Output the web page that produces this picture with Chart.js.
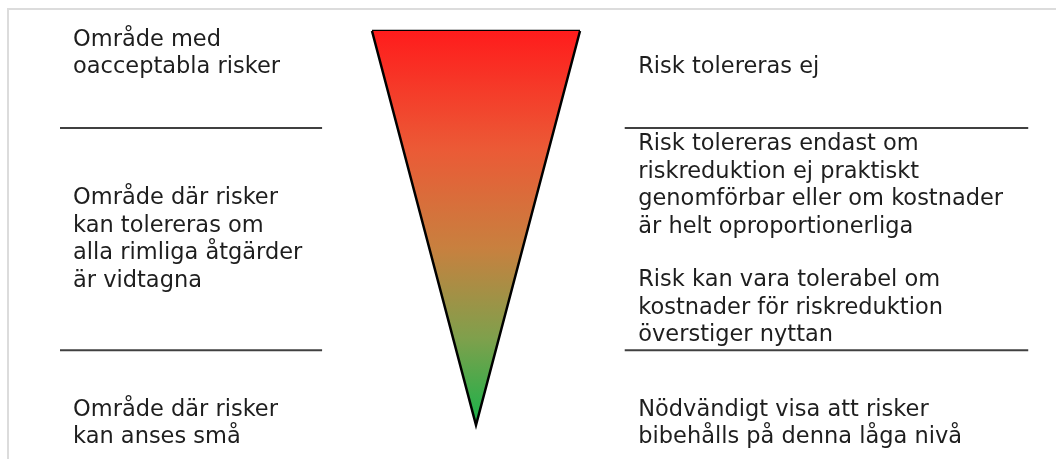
<!DOCTYPE html>
<html>
<head>
<meta charset="utf-8">
<script src="https://cdn.jsdelivr.net/npm/chart.js@4"></script>
<style>
  html, body { margin: 0; padding: 0; background: #fff; }
  #wrap { position: relative; width: 1056px; height: 459px; }
  #frame { position: absolute; left: 7px; top: 8px; right: 0; bottom: 0;
           border-left: 2px solid #dcdcdc; border-top: 2px solid #dcdcdc; }
  #riskchart { position: absolute; left: 0; top: 0; }
</style>
</head>
<body>
<div id="wrap">
  <div id="frame"></div>
  <canvas id="riskchart" width="1056" height="459"></canvas>
</div>
<script>
// risk level 0 = apex (small risk), 1 = top (unacceptable)
const triangleX = [-1, 0, 1];
const triangleY = [1, 0, 1];

// boundaries between the three zones
const zoneBounds = [0.754, 0.19];
const leftLineX = [-4.0, -1.48];
const rightLineX = [1.43, 5.31];

const leftLabels = [
    ["Område med", "oacceptabla risker"],
    ["Område där risker", "kan tolereras om", "alla rimliga åtgärder", "är vidtagna"],
    ["Område där risker", "kan anses små"]
];
const leftLevels = [0.942, 0.47, 0.003];

const rightLabels = [
    ["Risk tolereras ej"],
    ["Risk tolereras endast om", "riskreduktion ej praktiskt", "genomförbar eller om kostnader", "är helt oproportionerliga"],
    ["Risk kan vara tolerabel om", "kostnader för riskreduktion", "överstiger nyttan"],
    ["Nödvändigt visa att risker", "bibehålls på denna låga nivå"]
];
const rightLevels = [0.909, 0.608, 0.297, 0.004];

const leftTextX = -3.875;
const rightTextX = 1.56;

document.addEventListener("DOMContentLoaded", function () {
    const canvas = document.getElementById("riskchart");

    const triangle = triangleX.map((x, i) => ({ x: x, y: triangleY[i] }));
    const topEdge = [triangle[0], triangle[2]];

    const lineSets = [];
    zoneBounds.forEach(level => {
        [leftLineX, rightLineX].forEach(xs => {
            lineSets.push({
                data: xs.map(x => ({ x: x, y: level })),
                borderColor: "#404040",
                borderWidth: 2,
                pointRadius: 0,
                fill: false
            });
        });
    });

    const textPlugin = {
        id: "zoneText",
        afterDatasetsDraw(chart) {
            const c = chart.ctx;
            const xs = chart.scales.x, ys = chart.scales.y;
            const lineH = 27.5;
            c.save();
            c.font = "22.5px 'DejaVu Sans', Verdana, sans-serif";
            c.fillStyle = "#1e1e1e";
            c.textBaseline = "middle";
            c.textAlign = "left";
            const drawBlocks = (blocks, levels, tx) => {
                blocks.forEach((lines, i) => {
                    const cy = ys.getPixelForValue(levels[i]);
                    const y0 = cy - (lines.length - 1) * lineH / 2;
                    lines.forEach((t, j) => c.fillText(t, xs.getPixelForValue(tx), y0 + j * lineH));
                });
            };
            drawBlocks(leftLabels, leftLevels, leftTextX);
            drawBlocks(rightLabels, rightLevels, rightTextX);
            c.restore();
        }
    };

    new Chart(canvas.getContext("2d"), {
        type: "line",
        data: {
            datasets: [{
                data: triangle,
                borderColor: "#000",
                borderWidth: 2.5,
                borderJoinStyle: "miter",
                pointRadius: 0,
                tension: 0,
                fill: { value: 1 },
                backgroundColor: function (context) {
                    const chart = context.chart;
                    if (!chart.chartArea) return "#c0703a";
                    const top = chart.scales.y.getPixelForValue(1);
                    const bottom = chart.scales.y.getPixelForValue(0);
                    const g = chart.ctx.createLinearGradient(0, top, 0, bottom);
                    g.addColorStop(0, "#ff1c1c");
                    g.addColorStop(0.3, "#eb5a36");
                    g.addColorStop(0.55, "#c8803f");
                    g.addColorStop(0.78, "#7fa04c");
                    g.addColorStop(1, "#18b24a");
                    return g;
                }
            }, {
                data: topEdge,
                borderColor: "#000",
                borderWidth: 2.5,
                pointRadius: 0,
                fill: false
            }].concat(lineSets)
        },
        options: {
            responsive: false,
            animation: false,
            layout: { padding: 0 },
            plugins: { legend: { display: false }, tooltip: { enabled: false } },
            scales: {
                x: { type: "linear", min: -4.577, max: 5.577, display: false },
                y: { type: "linear", min: -0.0863, max: 1.0787, display: false }
            }
        },
        plugins: [textPlugin]
    });
});
</script>
</body>
</html>
